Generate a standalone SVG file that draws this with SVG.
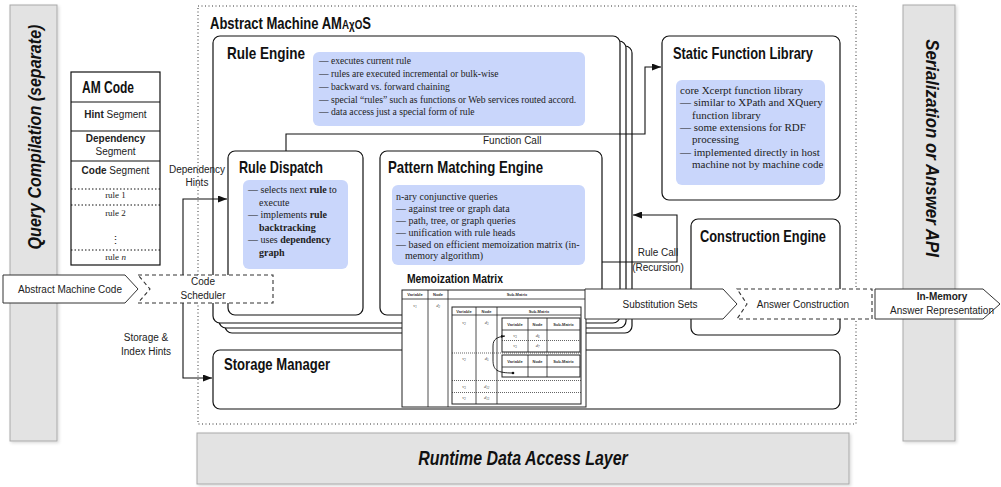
<svg xmlns="http://www.w3.org/2000/svg" width="1001" height="487" viewBox="0 0 1001 487">
<style>
.bar{fill:#e3e3e3;stroke:#a9a9a9;stroke-width:1}
.bartxt{font-family:"Liberation Sans",Arial,sans-serif;font-style:italic;font-weight:bold;fill:#111}
.box{fill:#fff;stroke:#111;stroke-width:1.2}
.blue{fill:#c9d6fb;stroke:none}
.title{font-family:"Liberation Sans",Arial,sans-serif;font-weight:bold;font-size:17px;fill:#111}
.bt{font-family:"Liberation Serif","Times New Roman",serif;font-size:10px;fill:#222}
.lbl{font-family:"Liberation Sans",Arial,sans-serif;font-size:10px;fill:#222}
.ln{fill:none;stroke:#111;stroke-width:1.1}
.arr{fill:#fff;stroke:#333;stroke-width:1}
.dash{fill:#fff;stroke:#333;stroke-width:1.1;stroke-dasharray:4 3}
.mt{font-family:"Liberation Sans",Arial,sans-serif;font-size:4px;font-weight:bold;fill:#333;text-anchor:middle}
.mv{font-family:"Liberation Serif",serif;font-size:4.5px;font-style:italic;fill:#333;text-anchor:middle}
.ml{fill:none;stroke:#222;stroke-width:0.8}
.md{fill:none;stroke:#222;stroke-width:0.7;stroke-dasharray:1 1}
</style>
<defs>
<marker id="ah" markerUnits="userSpaceOnUse" markerWidth="9" markerHeight="7" refX="9" refY="3.5" orient="auto"><path d="M0,0 L9,3.5 L0,7 Z" fill="#111"/></marker>
<marker id="ahs" markerUnits="userSpaceOnUse" markerWidth="4" markerHeight="3" refX="4" refY="1.5" orient="auto"><path d="M0,0 L4,1.5 L0,3 Z" fill="#111"/></marker>
<filter id="sh" x="-10%" y="-10%" width="130%" height="130%"><feDropShadow dx="1.5" dy="1.5" stdDeviation="1.5" flood-color="#000" flood-opacity="0.15"/></filter>
</defs>
<rect width="1001" height="487" fill="#fff"/>

<g id="query-compilation">
<rect class="bar" x="10" y="5" width="47" height="436" filter="url(#sh)"/>
<text class="bartxt" style="font-size:19px" text-anchor="middle" transform="translate(41,137) rotate(-90) scale(0.846,1)">Query Compilation (separate)</text>
</g>
<g id="serialization">
<rect class="bar" x="903" y="5" width="52" height="436" filter="url(#sh)"/>
<text class="bartxt" style="font-size:19px" text-anchor="middle" transform="translate(926,148) rotate(90) scale(0.887,1)">Serialization or Answer API</text>
</g>
<g id="runtime">
<rect class="bar" x="197" y="433" width="652" height="51" filter="url(#sh)"/>
<text class="bartxt" style="font-size:21px" text-anchor="middle" transform="translate(523,465) scale(0.76,1)">Runtime Data Access Layer</text>
</g>

<g id="abstract-machine">
<rect x="198" y="6" width="658" height="418" fill="none" stroke="#333" stroke-width="1" stroke-dasharray="1 2.5"/>
<text class="title" style="font-size:16px" transform="translate(210,29) scale(0.815,1)">Abstract Machine AM<tspan style="font-size:12px">AχO</tspan>S</text>
</g>

<g id="static-function-library">
<rect class="box" x="662" y="36" width="178" height="164" rx="7"/>
<text class="title" x="673" y="59" textLength="140" lengthAdjust="spacingAndGlyphs">Static Function Library</text>
<rect class="blue" x="676" y="80" width="149" height="105" rx="6"/>
<g class="bt" style="font-size:11px">
<text x="680" y="94">core Xcerpt function library</text>
<text x="680" y="106.3">— similar to XPath and XQuery</text>
<text x="692" y="118.6">function library</text>
<text x="680" y="130.9">— some extensions for RDF</text>
<text x="692" y="143.2">processing</text>
<text x="680" y="155.5">— implemented directly in host</text>
<text x="692" y="167.8">machine not by machine code</text>
</g>
</g>

<g id="construction-engine">
<rect class="box" x="691" y="219" width="149" height="116" rx="7"/>
<text class="title" x="700" y="242" textLength="126" lengthAdjust="spacingAndGlyphs">Construction Engine</text>
</g>

<g id="storage-manager">
<rect class="box" x="213" y="350" width="627" height="59" rx="7"/>
<text class="title" x="224" y="370" textLength="106" lengthAdjust="spacingAndGlyphs">Storage Manager</text>
</g>

<g id="rule-engine">
<rect class="box" x="225" y="46" width="407" height="287" rx="7"/>
<rect class="box" x="219" y="41" width="407" height="287" rx="7"/>
<rect class="box" x="213" y="36" width="407" height="287" rx="7"/>
<text class="title" x="227" y="59" textLength="78" lengthAdjust="spacingAndGlyphs">Rule Engine</text>
<rect class="blue" x="313" y="52" width="272" height="74" rx="6"/>
<g class="bt" style="font-size:9.6px">
<text x="319" y="64">— executes current rule</text>
<text x="319" y="76.5">— rules are executed incremental or bulk-wise</text>
<text x="319" y="89.5">— backward vs. forward chaining</text>
<text x="319" y="102.5">— special “rules” such as functions or Web services routed accord.</text>
<text x="319" y="115">— data access just a special form of rule</text>
</g>
</g>

<g id="rule-dispatch">
<rect class="box" x="228" y="151" width="135" height="164" rx="7"/>
<text class="title" x="239" y="173" textLength="84" lengthAdjust="spacingAndGlyphs">Rule Dispatch</text>
<rect class="blue" x="243" y="180" width="105" height="89" rx="6"/>
<text class="bt" x="248" y="193">— selects next <tspan font-weight="bold">rule</tspan> to</text>
<text class="bt" x="259" y="205.5">execute</text>
<text class="bt" x="248" y="218">— implements <tspan font-weight="bold">rule</tspan></text>
<text class="bt" x="259" y="230.5" font-weight="bold">backtracking</text>
<text class="bt" x="248" y="243">— uses <tspan font-weight="bold">dependency</tspan></text>
<text class="bt" x="259" y="255.5" font-weight="bold">graph</text>
</g>

<g id="pattern-matching-engine">
<rect class="box" x="380" y="151" width="222" height="164" rx="7"/>
<text class="title" x="388" y="173" textLength="155" lengthAdjust="spacingAndGlyphs">Pattern Matching Engine</text>
<rect class="blue" x="392" y="185" width="193" height="80" rx="6"/>
<text class="bt" x="396" y="200">n-ary conjunctive queries</text>
<text class="bt" x="396" y="211.5">— against tree or graph data</text>
<text class="bt" x="396" y="223.5">— path, tree, or graph queries</text>
<text class="bt" x="396" y="235.5">— unification with rule heads</text>
<text class="bt" x="396" y="247.5">— based on efficient memoization matrix (in-</text>
<text class="bt" x="405" y="259">memory algorithm)</text>
<text class="title" style="font-size:13.5px" x="407" y="283" textLength="96" lengthAdjust="spacingAndGlyphs">Memoization Matrix</text>
</g>

<g id="am-code">
<rect x="71" y="72" width="89" height="193" fill="#fff" stroke="#111" stroke-width="1.2"/>
<text class="title" x="82" y="93" textLength="52" lengthAdjust="spacingAndGlyphs">AM Code</text>
<line class="ln" x1="71" y1="102" x2="160" y2="102"/>
<text class="lbl" x="115.5" y="118" text-anchor="middle"><tspan font-weight="bold">Hint</tspan> Segment</text>
<line class="ln" x1="71" y1="131" x2="160" y2="131"/>
<text class="lbl" x="115.5" y="142" text-anchor="middle" font-weight="bold">Dependency</text>
<text class="lbl" x="115.5" y="155" text-anchor="middle">Segment</text>
<line class="ln" x1="71" y1="161" x2="160" y2="161"/>
<text class="lbl" x="115.5" y="174" text-anchor="middle"><tspan font-weight="bold">Code</tspan> Segment</text>
<line x1="71" y1="189" x2="160" y2="189" stroke="#111" stroke-width="1" stroke-dasharray="1.5 2"/>
<text class="bt" style="font-size:9px" x="115.5" y="198" text-anchor="middle">rule 1</text>
<line x1="71" y1="205" x2="160" y2="205" stroke="#111" stroke-width="1" stroke-dasharray="1.5 2"/>
<text class="bt" style="font-size:9px" x="115.5" y="216" text-anchor="middle">rule 2</text>
<text class="bt" style="font-size:11px" x="115.5" y="244" text-anchor="middle">⋮</text>
<line x1="71" y1="250" x2="160" y2="250" stroke="#111" stroke-width="1" stroke-dasharray="1.5 2"/>
<text class="bt" style="font-size:9px" x="115.5" y="260" text-anchor="middle">rule <tspan font-style="italic">n</tspan></text>
</g>

<g id="connectors">
<path class="ln" d="M286,151 V134 H645 V67 H661" marker-end="url(#ah)"/>
<text class="lbl" x="483" y="144">Function Call</text>
<path class="ln" d="M183,275 V199 H227" marker-end="url(#ah)"/>
<text class="lbl" x="197" y="173" text-anchor="middle">Dependency</text>
<text class="lbl" x="197" y="186" text-anchor="middle">Hints</text>
<path class="ln" d="M183,303 V378 H212" marker-end="url(#ah)"/>
<text class="lbl" x="146" y="341" text-anchor="middle">Storage &amp;</text>
<text class="lbl" x="146" y="355" text-anchor="middle">Index Hints</text>
<path class="ln" d="M602,262 H677 V215 H633" marker-end="url(#ah)"/>
<text class="lbl" x="658" y="256" text-anchor="middle">Rule Call</text>
<text class="lbl" x="658" y="271" text-anchor="middle">(Recursion)</text>
</g>

<g id="memoization-matrix">
<rect x="402" y="290" width="184" height="117" fill="#fff" stroke="#222" stroke-width="1"/>
<line class="ml" x1="402" y1="299" x2="586" y2="299"/>
<line class="ml" x1="428" y1="290" x2="428" y2="407"/>
<line class="ml" x1="448" y1="290" x2="448" y2="407"/>
<text class="mt" x="415" y="296">Variable</text>
<text class="mt" x="438" y="296">Node</text>
<text class="mt" x="517" y="296">Sub-Matrix</text>
<text class="mv" x="415" y="307">v<tspan style="font-size:3px" dy="1">1</tspan></text>
<text class="mv" x="438" y="307">d<tspan style="font-size:3px" dy="1">2</tspan></text>
<rect x="452" y="307" width="129" height="97" fill="#fff" stroke="#222" stroke-width="1"/>
<line class="ml" x1="452" y1="315" x2="581" y2="315"/>
<line class="ml" x1="476" y1="307" x2="476" y2="404"/>
<line class="ml" x1="497" y1="307" x2="497" y2="404"/>
<text class="mt" x="464" y="312.5">Variable</text>
<text class="mt" x="486.5" y="312.5">Node</text>
<text class="mt" x="539" y="312.5">Sub-Matrix</text>
<text class="mv" x="464" y="324">v<tspan style="font-size:3px" dy="1">2</tspan></text>
<text class="mv" x="486.5" y="324">d<tspan style="font-size:3px" dy="1">3</tspan></text>
<rect x="502" y="318" width="78" height="34" fill="#fff" stroke="#222" stroke-width="1"/>
<line class="ml" x1="502" y1="330" x2="580" y2="330"/>
<line class="ml" x1="528" y1="318" x2="528" y2="352"/>
<line class="ml" x1="547" y1="318" x2="547" y2="352"/>
<text class="mt" x="515" y="325.5">Variable</text>
<text class="mt" x="537.5" y="325.5">Node</text>
<text class="mt" x="563.5" y="325.5">Sub-Matrix</text>
<text class="mv" x="515" y="337">v<tspan style="font-size:3px" dy="1">3</tspan></text>
<text class="mv" x="537.5" y="337">d<tspan style="font-size:3px" dy="1">6</tspan></text>
<line class="md" x1="502" y1="340.5" x2="580" y2="340.5"/>
<text class="mv" x="515" y="347">v<tspan style="font-size:3px" dy="1">3</tspan></text>
<text class="mv" x="537.5" y="347">d<tspan style="font-size:3px" dy="1">7</tspan></text>
<line class="md" x1="452" y1="353" x2="581" y2="353"/>
<text class="mv" x="464" y="360">v<tspan style="font-size:3px" dy="1">2</tspan></text>
<text class="mv" x="486.5" y="360">d<tspan style="font-size:3px" dy="1">5</tspan></text>
<rect x="502" y="355" width="78" height="22" fill="#fff" stroke="#222" stroke-width="1"/>
<line class="ml" x1="502" y1="367" x2="580" y2="367"/>
<line class="ml" x1="528" y1="355" x2="528" y2="377"/>
<line class="ml" x1="547" y1="355" x2="547" y2="377"/>
<text class="mt" x="515" y="362.5">Variable</text>
<text class="mt" x="537.5" y="362.5">Node</text>
<text class="mt" x="563.5" y="362.5">Sub-Matrix</text>
<line class="md" x1="452" y1="380.5" x2="581" y2="380.5"/>
<text class="mv" x="464" y="388">v<tspan style="font-size:3px" dy="1">3</tspan></text>
<text class="mv" x="486.5" y="388">d<tspan style="font-size:3px" dy="1">12</tspan></text>
<line class="md" x1="452" y1="392.5" x2="581" y2="392.5"/>
<text class="mv" x="464" y="399">v<tspan style="font-size:3px" dy="1">2</tspan></text>
<text class="mv" x="486.5" y="399">d<tspan style="font-size:3px" dy="1">13</tspan></text>
<path d="M513,373 C497,373 493,370 493,360 L493,346 C493,339 497,337 505,336" fill="none" stroke="#111" stroke-width="0.9" marker-end="url(#ahs)"/>
<circle cx="513" cy="373" r="1.3" fill="#111"/>
</g>

<g id="abstract-machine-code">
<path class="arr" d="M3,275 H125 L138,289 L125,303 H3 Z"/>
<text class="lbl" x="70" y="293" text-anchor="middle">Abstract Machine Code</text>
</g>
<g id="code-scheduler">
<path class="dash" d="M138,275 H273 V303 H138 L150,289 Z"/>
<text class="lbl" x="203" y="285" text-anchor="middle">Code</text>
<text class="lbl" x="203" y="298.5" text-anchor="middle">Scheduler</text>
</g>
<g id="substitution-sets">
<path class="arr" d="M585,289 H723 L737,304 L723,319 H585 Z"/>
<text class="lbl" x="660" y="307.5" text-anchor="middle">Substitution Sets</text>
</g>
<g id="answer-construction">
<path class="dash" d="M737,289 H872 V319 H737 L747,304 Z"/>
<text class="lbl" x="803" y="307.5" text-anchor="middle">Answer Construction</text>
</g>
<g id="in-memory">
<path class="arr" d="M875,289 H983 L1000,304 L983,319 H875 Z"/>
<text class="lbl" x="942" y="300" text-anchor="middle" font-weight="bold">In-Memory</text>
<text class="lbl" x="942" y="314" text-anchor="middle">Answer Representation</text>
</g>
</svg>
